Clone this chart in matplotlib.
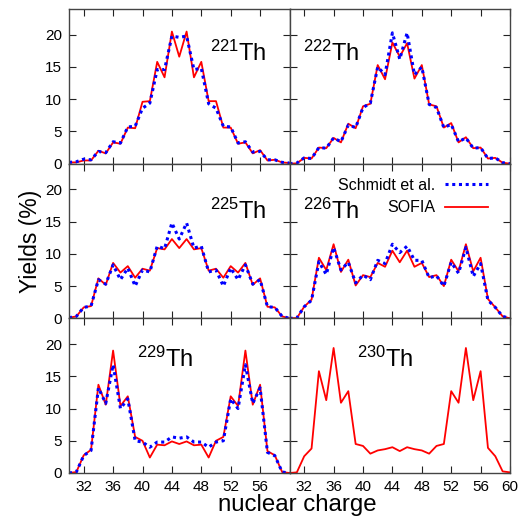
import numpy as np
import matplotlib.pyplot as plt

plt.rcParams['font.family'] = ['Liberation Sans', 'DejaVu Sans']
plt.rcParams['mathtext.fontset'] = 'custom'
plt.rcParams['mathtext.rm'] = 'Liberation Sans'
plt.rcParams['mathtext.it'] = 'Liberation Sans:italic'

# nuclear charge
Z = np.arange(30, 61)

# SOFIA yields (%)
sofia_221 = [0.2, 0.2, 0.5, 0.5, 2.0, 1.6, 3.3, 3.1, 5.6, 5.5, 9.6, 9.7, 15.8, 13.4, 20.5, 16.6,
             20.5, 13.4, 15.8, 9.7, 9.7, 5.6, 5.6, 3.1, 3.3, 1.6, 2.1, 0.5, 0.6, 0.2, 0.1]
sofia_222 = [0.0, 0.05, 0.9, 0.8, 2.5, 2.4, 4.0, 3.3, 6.2, 5.5, 8.9, 9.3, 15.3, 13.1, 18.8, 16.6,
             18.7, 13.2, 15.3, 9.2, 8.9, 5.6, 6.3, 3.3, 4.1, 2.4, 2.5, 0.8, 0.9, 0.15, 0.0]
sofia_225 = [0.1, 0.3, 1.7, 1.9, 6.2, 5.2, 8.6, 7.1, 8.1, 6.3, 7.7, 7.4, 10.9, 10.7, 12.3, 10.9,
             12.3, 10.7, 10.9, 7.4, 7.7, 6.3, 8.1, 7.1, 8.6, 5.2, 6.2, 1.8, 1.7, 0.3, 0.0]
sofia_226 = [0.0, 0.05, 1.8, 2.9, 9.4, 7.5, 11.5, 7.2, 9.1, 5.1, 6.7, 6.4, 8.6, 8.0, 10.5, 8.7,
             10.5, 8.0, 8.6, 6.4, 6.7, 5.0, 9.1, 7.3, 11.5, 7.3, 9.4, 3.0, 1.7, 0.3, 0.0]
sofia_229 = [0.0, 0.15, 2.75, 3.6, 13.7, 10.6, 19.0, 10.4, 11.9, 5.6, 5.0, 2.4, 4.4, 4.3, 4.9, 4.5,
             4.9, 4.3, 4.4, 2.4, 5.0, 5.6, 11.9, 10.4, 19.0, 10.6, 13.7, 3.4, 2.75, 0.15, 0.0]
sofia_230 = [0.0, 0.1, 2.6, 3.8, 15.8, 11.3, 19.4, 10.9, 12.7, 4.5, 4.2, 3.0, 3.5, 3.7, 4.0, 3.4,
             4.0, 3.7, 3.5, 3.0, 4.2, 4.5, 12.7, 10.9, 19.4, 11.3, 15.8, 3.9, 2.6, 0.25, 0.1]

# Schmidt et al. yields (%)
schmidt_221 = [0.2, 0.3, 0.7, 0.6, 1.9, 1.7, 3.4, 3.2, 5.7, 5.8, 8.6, 9.4, 14.6, 14.6, 19.8, 19.6,
               19.8, 14.6, 14.8, 9.3, 8.6, 5.8, 5.7, 3.2, 3.4, 1.8, 1.9, 0.6, 0.6, 0.2, 0.1]
schmidt_222 = [0.0, 0.1, 0.9, 0.8, 2.5, 2.4, 4.0, 3.4, 6.0, 5.6, 8.7, 9.4, 15.0, 13.8, 20.3, 16.2,
               20.3, 13.8, 15.0, 9.2, 8.7, 5.6, 6.1, 3.4, 4.0, 2.4, 2.5, 0.8, 0.9, 0.15, 0.0]
schmidt_225 = [0.1, 0.3, 1.7, 1.9, 6.0, 5.3, 8.3, 6.0, 7.8, 5.0, 7.5, 7.2, 11.2, 10.8, 14.8, 12.3,
               14.8, 10.9, 11.2, 7.2, 7.5, 5.0, 7.8, 6.0, 8.3, 5.3, 6.0, 1.8, 1.7, 0.3, 0.0]
schmidt_226 = [0.0, 0.05, 1.8, 2.8, 8.8, 6.8, 11.0, 7.5, 8.7, 5.5, 6.7, 6.0, 9.0, 8.5, 11.5, 10.2,
               11.2, 9.0, 9.0, 6.3, 6.6, 5.0, 8.7, 7.0, 11.0, 6.5, 8.5, 2.8, 1.7, 0.3, 0.0]
schmidt_229 = [0.0, 0.15, 2.7, 3.5, 13.2, 10.8, 16.8, 10.0, 11.5, 5.0, 4.8, 4.0, 4.8, 4.8, 5.6, 5.4,
               5.6, 4.8, 4.8, 4.0, 4.8, 5.0, 11.5, 10.0, 16.8, 10.8, 13.2, 3.2, 2.7, 0.15, 0.0]

isotopes = ['221', '222', '225', '226', '229', '230']
sofia = [sofia_221, sofia_222, sofia_225, sofia_226, sofia_229, sofia_230]
schmidt = [schmidt_221, schmidt_222, schmidt_225, schmidt_226, schmidt_229, None]

# label positions (data coords) for the isotope names
label_pos = [(49.2, 16.0), (31.8, 16.0), (49.2, 15.5), (31.8, 15.5), (39.2, 16.5), (39.2, 16.5)]

fig, axes = plt.subplots(3, 2, figsize=(5.3, 5.22), dpi=100, sharey=True)
fig.subplots_adjust(left=69/530, right=510/530, top=1-9/522, bottom=1-473/522,
                    wspace=0, hspace=0)

for i, ax in enumerate(axes.flat):
    ax.plot(Z, sofia[i], color='red', lw=1.3, label='SOFIA')
    if schmidt[i] is not None:
        ax.plot(Z, schmidt[i], color='blue', lw=2.2, ls=(0, (1, 1.2)), label='Schmidt et al.')
    ax.set_xlim(30, 60)
    ax.set_ylim(0, 24)
    ax.set_yticks([0, 5, 10, 15, 20])
    col = i % 2
    ax.set_xticks([32, 36, 40, 44, 48, 52, 56, 60])
    if col == 0:
        ax.set_xticklabels(['32', '36', '40', '44', '48', '52', '56', ''])
    ax.tick_params(direction='in', top=True, right=True, length=5, width=0.8,
                   labelsize=11, colors='#222222', labelcolor='black', pad=5)
    if i < 4:
        ax.tick_params(labelbottom=False)
    for sp in ax.spines.values():
        sp.set_color('#444444')
        sp.set_linewidth(1.0)
    x0, y0 = label_pos[i]
    ax.text(x0, y0, r'$^{%s}$Th' % isotopes[i], fontsize=17, ha='left', va='baseline')

# legend in middle right panel
ax = axes[1, 1]
h, l = ax.get_legend_handles_labels()
ax.legend([h[1], h[0]], [l[1], l[0]], loc='upper right', bbox_to_anchor=(0.965, 1.0),
          frameon=False, markerfirst=False, fontsize=11.5, handlelength=2.7,
          handletextpad=0.6, labelspacing=0.45)

fig.text(0.058, (1 - 241/522), 'Yields (%)', rotation=90, fontsize=16.5, ha='center', va='center')
fig.text(297/530, 1 - 505/522, 'nuclear charge', fontsize=17.3, ha='center', va='center')

plt.savefig('out.png', dpi=100)
